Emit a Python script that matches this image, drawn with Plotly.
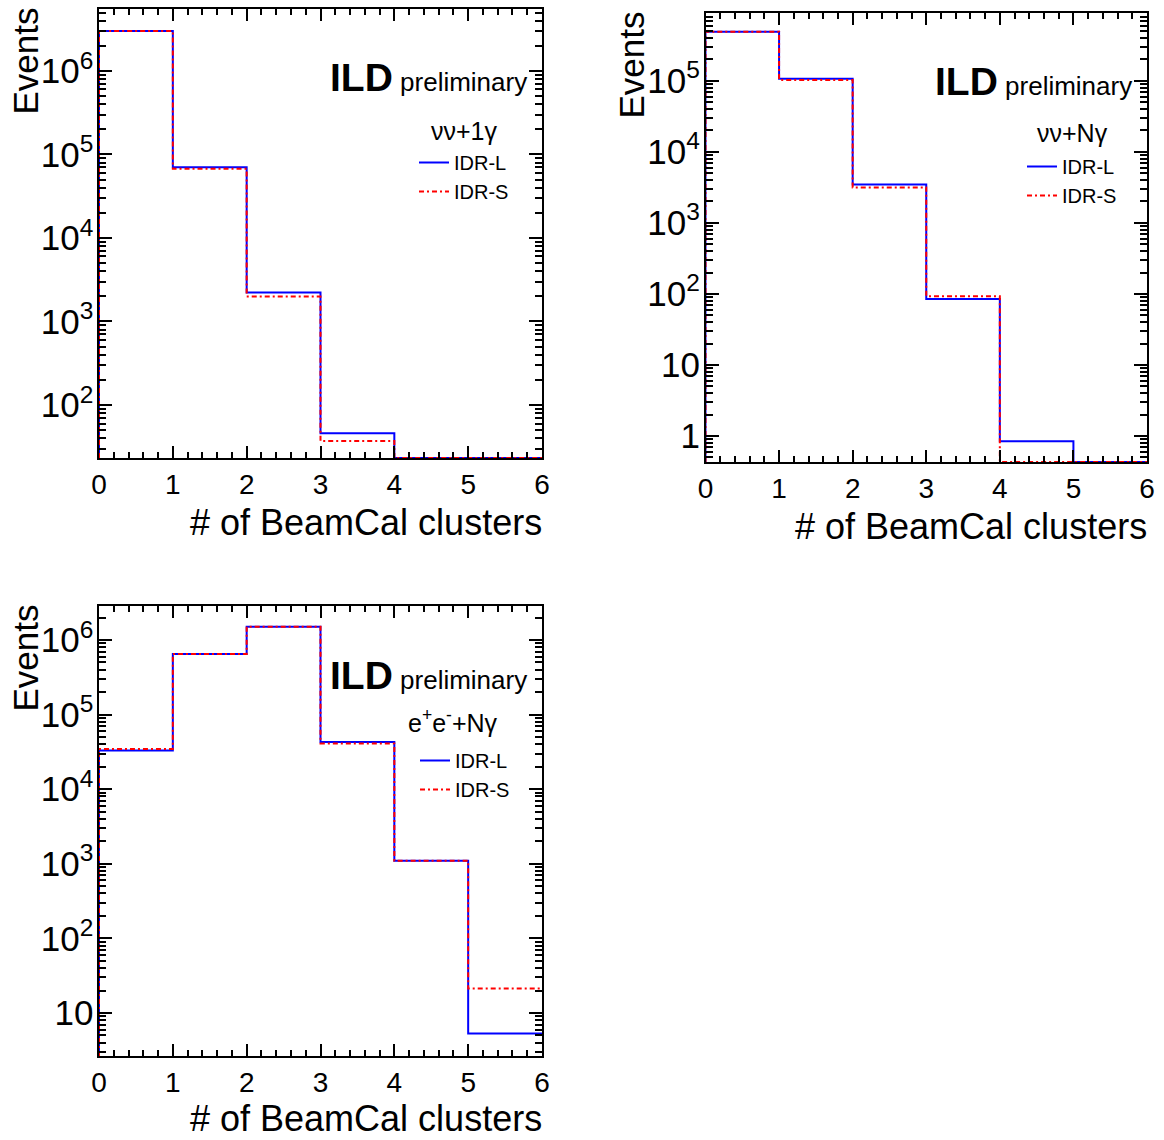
import plotly.graph_objects as go
import numpy as np

# ---------------- data ----------------
bin_edges = [0, 1, 2, 3, 4, 5, 6]

# panel 1 : nu nu + 1 gamma
p1_label = "νν+1γ"
p1_idr_l = [3.0e6, 7.05e4, 2220, 46, 0, 0]
p1_idr_s = [3.0e6, 6.75e4, 1990, 37, 0, 0]

# panel 2 : nu nu + N gamma
p2_label = "νν+Nγ"
p2_idr_l = [4.9e5, 1.07e5, 3460, 85, 0.84, 0]
p2_idr_s = [4.9e5, 1.03e5, 3160, 93, 0, 0]

# panel 3 : e+ e- + N gamma
p3_label = "e<sup>+</sup>e<sup>-</sup>+Nγ"
p3_idr_l = [3.29e4, 6.5e5, 1.51e6, 4.28e4, 1100, 5.3]
p3_idr_s = [3.46e4, 6.5e5, 1.51e6, 4.1e4, 1100, 21.2]

series_names = ["IDR-L", "IDR-S"]
x_title = "# of BeamCal clusters"
y_title = "Events"

# ---------------- style / layout ----------------
W, H = 1164, 1140
FONT = "Liberation Sans, Arial, Helvetica, sans-serif"


def fx(px):
    return px / W


def fy(py):
    return 1 - py / H


panels = [
    dict(vals=(p1_idr_l, p1_idr_s), label=p1_label, yrange=[1.365, 6.742],
         box=(99, 542, 9, 458), ytitle_x=25, xtitle_y=522, ild_base=92,
         head=(464, 131), leg=(414, 143)),
    dict(vals=(p2_idr_l, p2_idr_s), label=p2_label, yrange=[-0.367, 5.955],
         box=(705.5, 1147, 13, 462), ytitle_x=631, xtitle_y=526, ild_base=96,
         head=(1072, 133), leg=(1022, 147)),
    dict(vals=(p3_idr_l, p3_idr_s), label=p3_label, yrange=[0.423, 6.456],
         box=(99, 542, 606, 1056), ytitle_x=25, xtitle_y=1118, ild_base=690,
         head=(453, 721), leg=(415, 741)),
]

colors = ["#0000ff", "#ff0000"]
dashes = ["solid", "5px,3px,2px,3px"]

fig = go.Figure()
annotations = []
layout = {}

for i, p in enumerate(panels):
    k = "" if i == 0 else str(i + 1)
    floor = 10 ** p["yrange"][0]
    for j, vals in enumerate(p["vals"]):
        v = np.asarray(vals, dtype=float)
        v = np.where(v > 0, v, floor)
        xs = [bin_edges[0]] + bin_edges[:-1] + [bin_edges[-1]]
        ys = [floor] + list(v) + [v[-1]]
        fig.add_trace(go.Scatter(
            x=xs, y=ys, mode="lines", line_shape="hv",
            line=dict(color=colors[j], width=2, dash=dashes[j]),
            name=series_names[j], xaxis="x" + k, yaxis="y" + k,
            legend="legend" + k, showlegend=True, hoverinfo="skip"))

    x0, x1, y0, y1 = p["box"]
    layout["xaxis" + k] = dict(
        domain=[fx(x0), fx(x1)], anchor="y" + k, range=[0, 6],
        tickmode="linear", tick0=0, dtick=1, automargin=False,
        ticks="inside", ticklen=12, tickwidth=2, tickcolor="black",
        minor=dict(ticks="inside", ticklen=6, tickwidth=2, tickcolor="black",
                   dtick=0.2, showgrid=False),
        showline=True, linewidth=2, linecolor="black", mirror="allticks",
        showgrid=False, zeroline=False, ticklabelstandoff=0,
        tickfont=dict(family=FONT, size=28, color="black"))
    layout["yaxis" + k] = dict(
        domain=[fy(y1), fy(y0)], anchor="x" + k, type="log", range=p["yrange"],
        tickmode="linear", tick0=0, dtick=1, exponentformat="power",
        automargin=False,
        ticks="inside", ticklen=13, tickwidth=2, tickcolor="black",
        minor=dict(ticks="inside", ticklen=7, tickwidth=2, tickcolor="black",
                   dtick="D1", showgrid=False),
        showline=True, linewidth=2, linecolor="black", mirror="allticks",
        showgrid=False, zeroline=False, ticklabelstandoff=-2,
        tickfont=dict(family=FONT, size=28, color="black"))
    layout["legend" + k] = dict(
        x=fx(p["leg"][0]), y=fy(p["leg"][1]), xanchor="left", yanchor="top",
        bgcolor="rgba(0,0,0,0)", borderwidth=0, itemwidth=30,
        font=dict(family=FONT, size=20, color="black"))

    # axis titles
    annotations.append(dict(
        text=x_title, xref="paper", yref="paper", x=fx(x1 + 2), y=fy(p["xtitle_y"]),
        xanchor="right", yanchor="middle", showarrow=False,
        font=dict(family=FONT, size=36, color="black")))
    annotations.append(dict(
        text=y_title, xref="paper", yref="paper", x=fx(p["ytitle_x"]), y=fy(y0 - 3),
        xanchor="center", yanchor="top", textangle=-90, showarrow=False,
        font=dict(family=FONT, size=35, color="black")))
    # ILD preliminary
    annotations.append(dict(
        text="<b>ILD</b><span style='font-size:26px'> preliminary</span>",
        xref="paper", yref="paper", x=fx(x1 - 13), y=fy(p["ild_base"] + 9),
        xanchor="right", yanchor="bottom", showarrow=False,
        font=dict(family=FONT, size=39, color="black")))
    # process header
    annotations.append(dict(
        text=p["label"], xref="paper", yref="paper",
        x=fx(p["head"][0]), y=fy(p["head"][1]),
        xanchor="center", yanchor="middle", showarrow=False,
        font=dict(family=FONT, size=25, color="black")))

fig.update_layout(
    width=W, height=H, margin=dict(l=0, r=0, t=0, b=0, autoexpand=False),
    paper_bgcolor="white", plot_bgcolor="white",
    annotations=annotations, **layout)

fig.write_html("out.html", config={"displayModeBar": False})
